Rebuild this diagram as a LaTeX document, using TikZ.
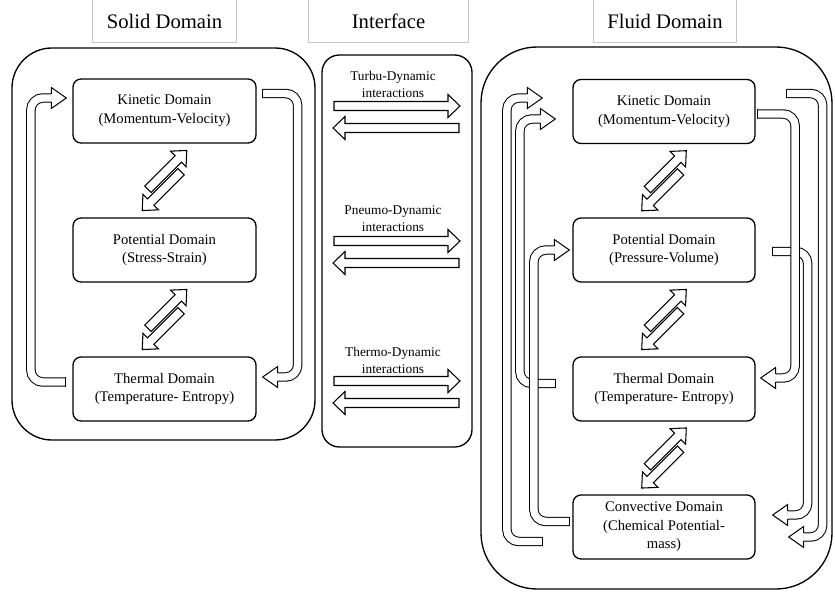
\documentclass[tikz,border=0pt]{standalone}
\usepackage{fontspec}
\setmainfont{Liberation Serif}
\usetikzlibrary{calc}
\begin{document}
\begin{tikzpicture}[x=0.75pt,y=-0.75pt,
  frame/.style={draw=black, line width=1pt},
  dom/.style={draw, fill=white, line width=1pt, rounded corners=6pt,
    minimum height=48pt, inner sep=0pt, align=center,
    font=\fontsize{11}{14}\selectfont},
  headbox/.style={inner sep=0pt, minimum height=31.5pt,
    font=\fontsize{15.5}{18}\selectfont},
  headrule/.style={draw=black!22, line width=0.6pt},
  tag/.style={align=center, inner sep=0pt, font=\fontsize{10}{12.75}\selectfont},
  blk/.style={draw, fill=white, line width=0.8pt, line join=miter},
  hollow/.style={draw, line width=0.75pt, double=white, double distance=5.6pt,
    rounded corners=9pt},
  pics/hhead/.style={code={
    \filldraw[fill=white, line width=0.75pt, line join=miter]
      (0,-4.23) -- (0,-10.5) -- (15,0) -- (0,10.5) -- (0,4.23);}},
  pics/htail/.style={code={\draw[line width=0.75pt] (0,-4.7) -- (0,4.7);}},
  pics/barrow/.style={code={
    \draw[blk] (0,-4.5) -- ({#1-12},-4.5) -- ({#1-12},-11.5) -- (#1,0)
      -- ({#1-12},11.5) -- ({#1-12},4.5) -- (0,4.5) -- cycle;}},
  pics/duo/.style={code={
    \draw[blk] (-18,-10) -- (25,-10) -- (25,-16.5) -- (37,-5.5) -- (25,5.5)
      -- (25,-1) -- (-18,-1) -- cycle;
    \draw[blk] (18,1) -- (-25,1) -- (-25,-5.5) -- (-37,5.5) -- (-25,16.5)
      -- (-25,10) -- (18,10) -- cycle;}}
]
\useasboundingbox (0,0) rectangle (835,592);

% column headings
\node[headbox, minimum width=107.25pt] (hs) at (164.5,21) {Solid Domain};
\node[headbox, minimum width=119.25pt] (hi) at (388.5,21) {Interface};
\node[headbox, minimum width=106.5pt] (hf) at (665,21) {Fluid Domain};
\foreach \h in {hs,hi,hf}
  \draw[headrule] (\h.north west) -- (\h.south west) -- (\h.south east) -- (\h.north east);

% outer frames
\draw[frame, rounded corners=30pt] (12,48) rectangle (315,440);
\draw[frame, rounded corners=13pt] (322,55) rectangle (472,447);
\draw[frame, rounded corners=42pt] (481,47) rectangle (832,589);

% solid domains
\node[dom, minimum width=137.25pt] (sk) at (164.5,111) {Kinetic Domain\\(Momentum-Velocity)};
\node[dom, minimum width=137.25pt] (sp) at (164.5,250) {Potential Domain\\(Stress-Strain)};
\node[dom, minimum width=137.25pt] (st) at (164.5,389) {Thermal Domain\\(Temperature- Entropy)};

% fluid domains
\node[dom, minimum width=136.5pt] (fk) at (664,111.5) {Kinetic Domain\\(Momentum-Velocity)};
\node[dom, minimum width=136.5pt] (fp) at (664,250) {Potential Domain\\(Pressure-Volume)};
\node[dom, minimum width=136.5pt] (ft) at (664,389) {Thermal Domain\\(Temperature- Entropy)};
\node[dom, minimum width=136.5pt] (fc) at (664,527) {Convective Domain\\(Chemical Potential-\\mass)};

% two-way exchanges between neighbouring domains
\pic[rotate=45] at ($(sk.south)!0.5!(sp.north)$) {duo};
\pic[rotate=45] at ($(sp.south)!0.5!(st.north)$) {duo};
\pic[rotate=45] at ($(fk.south)!0.5!(fp.north)$) {duo};
\pic[rotate=45] at ($(fp.south)!0.5!(ft.north)$) {duo};
\pic[rotate=45] at ($(ft.south)!0.5!(fc.north)$) {duo};

% interface interactions
\node[tag] (i1) at (393,84.5) {Turbu-Dynamic\\interactions};
\node[tag] (i2) at (393,219) {Pneumo-Dynamic\\interactions};
\node[tag] (i3) at (393,360) {Thermo-Dynamic\\interactions};
\foreach \y in {106,241,381}{
  \pic at (334,\y) {barrow=126};
  \pic[rotate=180] at (459,\y+22) {barrow=126};
}

% solid loop: kinetic -> thermal -> kinetic
\coordinate (sR0) at ($(sk.east)+(6,-17.5)$);
\coordinate (sR1) at ($(st.east)+(21,-12)$);
\draw[hollow] (sR0) -- ++(35,0) |- (sR1);
\coordinate (sL0) at ($(st.west)+(-7,-7)$);
\coordinate (sL1) at ($(sk.west)+(-21,-13)$);
\draw[hollow] (sL0) -- ++(-34.5,0) |- (sL1);

% fluid loops, left side
\coordinate (fL20) at ($(ft.west)+(-17,-5.5)$);
\coordinate (fL21) at ($(fk.west)+(-32,7.5)$);
\draw[hollow] (fL20) -- ++(-35.5,0) |- (fL21);
\coordinate (fL30) at ($(fc.west)+(-3,-5.5)$);
\coordinate (fL31) at ($(fp.west)+(-18,0)$);
\draw[hollow] (fL30) -- ++(-35.5,0) |- (fL31);
\coordinate (fL10) at ($(fc.west)+(-30,14.5)$);
\coordinate (fL11) at ($(fk.west)+(-45,-13.5)$);
\draw[hollow] (fL10) -- ++(-35.5,0) |- (fL11);

% fluid loops, right side
\coordinate (fR30) at ($(fp.east)+(17,1.5)$);
\coordinate (fR31) at ($(fc.east)+(32,-12)$);
\draw[hollow] (fR30) -- ++(35,0) |- (fR31);
\coordinate (fR20) at ($(fk.east)+(2,2.5)$);
\coordinate (fR21) at ($(ft.east)+(20,-11)$);
\draw[hollow] (fR20) -- ++(37.5,0) |- (fR21);
\coordinate (fR10) at ($(fk.east)+(31,-18)$);
\coordinate (fR11) at ($(fc.east)+(48,10)$);
\draw[hollow] (fR10) -- ++(36,0) |- (fR11);

% heads and closed tails
\foreach \c in {sL1,fL11,fL21,fL31}
  \pic at (\c) {hhead};
\foreach \c in {sR1,fR11,fR21,fR31}
  \pic[rotate=180] at (\c) {hhead};
\foreach \c in {sR0,sL0,fL10,fL20,fL30,fR10,fR20,fR30}
  \pic at (\c) {htail};
\end{tikzpicture}
\end{document}
